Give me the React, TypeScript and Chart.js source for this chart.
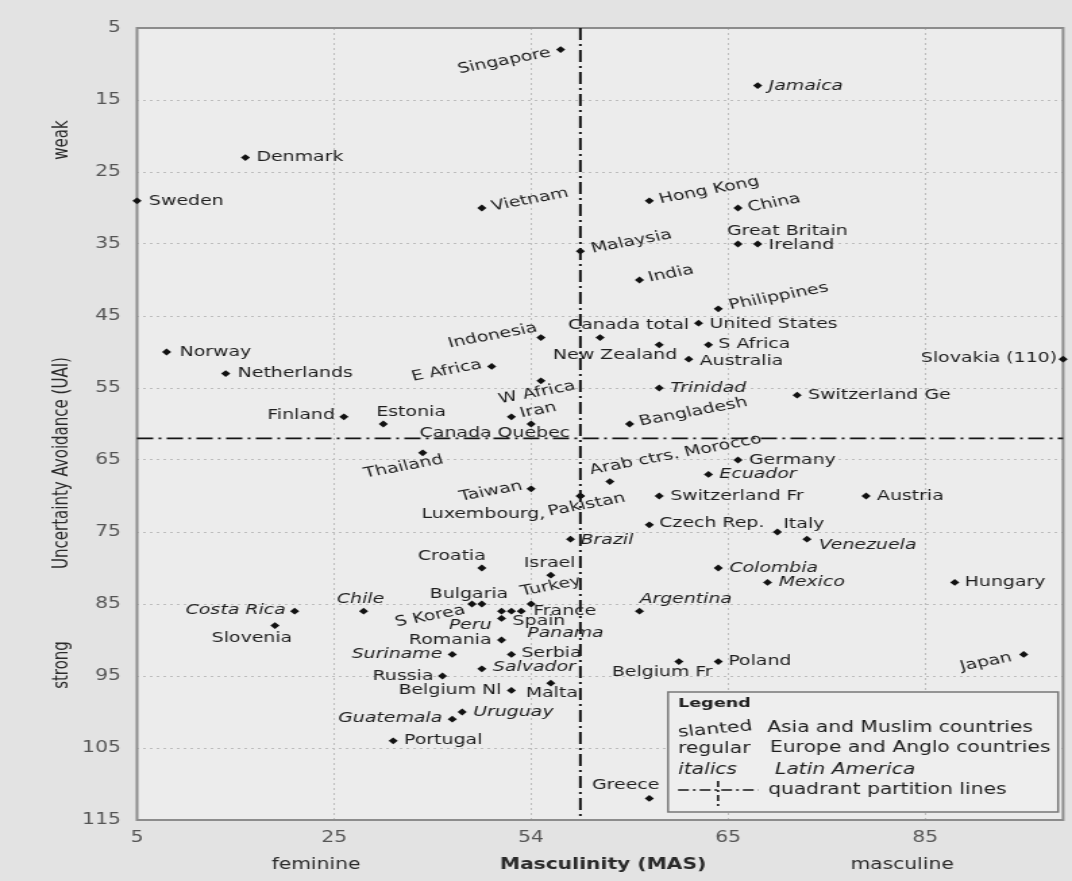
import React, { useEffect, useRef } from "react";
import { Chart, registerables } from "chart.js";

Chart.register(...registerables);

// The scanned figure is stretched horizontally: draw narrow, display wide.
const S = 1.35;
const W = 1072;
const H = 881;
const IW = Math.round(W / S);

const COUNTRIES = [
  "Singapore", "Jamaica", "Denmark", "Sweden", "Vietnam", "Hong Kong", "China", "Great Britain", "Ireland", "Malaysia",
  "India", "Philippines", "Canada total", "United States", "New Zealand", "S Africa", "Australia", "Slovakia (110)", "Indonesia", "E Africa",
  "W Africa", "Norway", "Netherlands", "Trinidad", "Switzerland Ge", "Finland", "Estonia", "Iran", "Canada Quebec", "Bangladesh",
  "Thailand", "Germany", "Ecuador", "Arab ctrs. Morocco", "Taiwan", "Luxembourg,", "Pakistan", "Switzerland Fr", "Austria", "Czech Rep.",
  "Italy", "Venezuela", "Brazil", "Croatia", "Israel", "Colombia", "Mexico", "Hungary", "Bulgaria", "S Korea",
  "Turkey", "France", "Spain", "Panama", "Peru", "Costa Rica", "Chile", "Argentina", "Slovenia", "Romania",
  "Serbia", "Suriname", "Salvador", "Russia", "Malta", "Belgium Nl", "Belgium Fr", "Poland", "Japan", "Uruguay",
  "Guatemala", "Portugal", "Greece",
];
const MAS = [
  48, 68, 16, 5, 40, 57, 66, 66, 68, 50,
  56, 64, 52, 62, 58, 63, 61, 110, 46, 41,
  46, 8, 14, 58, 72, 26, 30, 43, 45, 55,
  34, 66, 63, 53, 45, 50, 50, 58, 79, 57,
  70, 73, 49, 40, 47, 64, 69, 88, 40, 39,
  45, 43, 42, 44, 42, 21, 28, 56, 19, 42,
  43, 37, 40, 36, 47, 43, 60, 64, 95, 38,
  37, 31, 57,
];
const UAI = [
  8, 13, 23, 29, 30, 29, 30, 35, 35, 36,
  40, 44, 48, 46, 49, 49, 51, 51, 48, 52,
  54, 50, 53, 55, 56, 59, 60, 59, 60, 60,
  64, 65, 67, 68, 69, 70, 70, 70, 70, 74,
  75, 76, 76, 80, 81, 80, 82, 82, 85, 85,
  85, 86, 86, 86, 87, 86, 86, 86, 88, 90,
  92, 92, 94, 95, 96, 97, 93, 93, 92, 100,
  101, 104, 112,
];
// a = slanted (Asia & Muslim), e = regular (Europe & Anglo), l = italics (Latin America)
const GROUP = [
  "a", "l", "e", "e", "a", "a", "a", "e", "e", "a",
  "a", "a", "e", "e", "e", "e", "e", "e", "a", "a",
  "a", "e", "e", "l", "e", "e", "e", "a", "e", "a",
  "a", "e", "l", "a", "a", "e", "a", "e", "e", "e",
  "e", "l", "l", "e", "e", "l", "l", "e", "e", "a",
  "a", "e", "e", "l", "l", "l", "l", "l", "e", "e",
  "e", "l", "l", "e", "e", "e", "e", "e", "a", "l",
  "l", "e", "e",
];

const X_MIN = 5;
const X_MAX = 99;
const Y_MIN = 5;
const Y_MAX = 115;
const X_TICKS = [5, 25, 45, 65, 85];
const X_TICK_LABELS = ["5", "25", "54", "65", "85"];
const Y_STEP = 10;
const QUAD_MAS = 50;
const QUAD_UAI = 62;

const LEGEND_TITLE = "Legend";
const LEGEND_KEYS = ["slanted", "regular", "italics", ""];
const LEGEND_TEXT = ["Asia and Muslim countries", "Europe and Anglo countries", "Latin America", "quadrant partition lines"];

// label placement (display px offset from dot, alignment)
const LABEL_LAYOUT: [number, number, string][] = [
  [-10, 3, "r"], [11, 1, "l"], [11, 0, "l"], [12, 1, "l"], [10, -1, "l"], [10, -1, "l"], [10, 0, "l"], [-11, -13, "l"], [11, 1, "l"], [11, -2, "l"],
  [9, -2, "l"], [11, -3, "l"], [-32, -12, "l"], [11, 1, "l"], [18, 11, "r"], [10, 0, "l"], [11, 2, "l"], [-6, -1, "r"], [-4, -10, "r"], [-10, -2, "r"],
  [-42, 19, "l"], [13, 0, "l"], [12, 0, "l"], [11, 0, "l"], [11, 0, "l"], [-9, -1, "r"], [-7, -12, "l"], [9, -3, "l"], [39, 9, "r"], [10, -2, "l"],
  [-19, 14, "c"], [11, 0, "l"], [11, 0, "l"], [-20, -11, "l"], [-9, -3, "r"], [-35, 18, "r"], [-32, 16, "l"], [11, 0, "l"], [11, 0, "l"], [10, -1, "l"],
  [6, -8, "l"], [12, 6, "l"], [10, 1, "l"], [4, -12, "r"], [-27, -12, "l"], [11, 0, "l"], [11, 0, "l"], [10, 0, "l"], [-52, -10, "l"], [-7, 6, "r"],
  [-10, -12, "l"], [22, 0, "l"], [11, 10, "l"], [6, 22, "l"], [-10, 7, "r"], [-9, -1, "r"], [-3, -12, "c"], [0, -12, "l"], [-23, 13, "c"], [-10, 0, "r"],
  [10, -1, "l"], [-10, 0, "r"], [11, -1, "l"], [-9, 0, "r"], [-25, 10, "l"], [-10, 0, "r"], [-67, 11, "l"], [10, 0, "l"], [-12, 3, "r"], [11, 0, "l"],
  [-10, -1, "r"], [11, 0, "l"], [10, -13, "r"],
];

const FONT = '"DejaVu Sans", "Liberation Sans", sans-serif';
const PAGE_BG = "#e3e3e3";
const PLOT_BG = "#ececec";
const INK = "#1e1e1e";
const SLANT = (-14 * Math.PI) / 180;

const decorPlugin = {
  id: "decor",
  beforeDraw(chart: any) {
    const { ctx, chartArea: a } = chart;
    ctx.save();
    ctx.fillStyle = PAGE_BG;
    ctx.fillRect(0, 0, chart.width, chart.height);
    ctx.fillStyle = PLOT_BG;
    ctx.fillRect(a.left, a.top, a.right - a.left, a.bottom - a.top);
    ctx.restore();
  },
  beforeDatasetsDraw(chart: any) {
    const { ctx, chartArea: a } = chart;
    const xs = chart.scales.x;
    const ys = chart.scales.y;
    ctx.save();
    ctx.strokeStyle = "#8c8c8c";
    ctx.lineWidth = 2;
    ctx.strokeRect(a.left, a.top, a.right - a.left, a.bottom - a.top);
    const qx = xs.getPixelForValue(QUAD_MAS);
    const qy = ys.getPixelForValue(QUAD_UAI);
    ctx.strokeStyle = "#151515";
    ctx.lineWidth = 2;
    ctx.setLineDash([12, 4, 2, 4]);
    ctx.beginPath();
    ctx.moveTo(qx, a.top);
    ctx.lineTo(qx, a.bottom);
    ctx.stroke();
    ctx.lineWidth = 1.8;
    ctx.beginPath();
    ctx.moveTo(a.left, qy);
    ctx.lineTo(a.right, qy);
    ctx.stroke();
    ctx.restore();
  },
  afterDatasetsDraw(chart: any) {
    const ctx = chart.ctx;
    const meta = chart.getDatasetMeta(0);
    ctx.save();
    ctx.fillStyle = INK;
    ctx.textBaseline = "middle";
    meta.data.forEach((pt: any, i: number) => {
      const [dx, dy, al] = LABEL_LAYOUT[i];
      const g = GROUP[i];
      ctx.font = (g === "l" ? "italic " : "") + "14px " + FONT;
      ctx.textAlign = al === "l" ? "left" : al === "r" ? "right" : "center";
      ctx.save();
      ctx.translate(pt.x + dx / S, pt.y + dy);
      if (g === "a") ctx.rotate(SLANT);
      ctx.fillText(COUNTRIES[i], 0, 0);
      ctx.restore();
    });
    ctx.restore();
  },
  afterDraw(chart: any) {
    const ctx = chart.ctx;
    ctx.save();
    ctx.fillStyle = "#2a2a2a";
    ctx.textAlign = "center";
    ctx.textBaseline = "middle";
    ctx.font = "15px " + FONT;
    const vert = (t: string, x: number, y: number) => {
      ctx.save();
      ctx.translate(x, y);
      ctx.rotate(-Math.PI / 2);
      ctx.fillText(t, 0, 0);
      ctx.restore();
    };
    vert("Uncertainty Avoidance (UAI)", 62 / S, 463);
    vert("weak", 62 / S, 140);
    vert("strong", 62 / S, 665);
    ctx.fillText("feminine", 316 / S, 865);
    ctx.fillText("masculine", 902 / S, 865);
    ctx.font = "bold 15px " + FONT;
    ctx.fillText("Masculinity (MAS)", 603 / S, 865);

    // legend box
    const lx = 668 / S;
    const ly = 692;
    const lw = (1058 - 668) / S;
    const lh = 120;
    ctx.fillStyle = "#eeeeee";
    ctx.fillRect(lx, ly, lw, lh);
    ctx.strokeStyle = "#777";
    ctx.lineWidth = 1.5;
    ctx.strokeRect(lx, ly, lw, lh);
    ctx.fillStyle = INK;
    ctx.textAlign = "left";
    ctx.font = "bold 13px " + FONT;
    ctx.fillText(LEGEND_TITLE, 678 / S, 704);
    ctx.font = "15px " + FONT;
    ctx.save();
    ctx.translate(678 / S, 733);
    ctx.rotate((-7 * Math.PI) / 180);
    ctx.fillText(LEGEND_KEYS[0], 0, 0);
    ctx.restore();
    ctx.fillText(LEGEND_TEXT[0], 767 / S, 728);
    ctx.fillText(LEGEND_KEYS[1], 678 / S, 749);
    ctx.fillText(LEGEND_TEXT[1], 770 / S, 748);
    ctx.font = "italic 15px " + FONT;
    ctx.fillText(LEGEND_KEYS[2], 678 / S, 770);
    ctx.fillText(LEGEND_TEXT[2], 775 / S, 770);
    ctx.font = "15px " + FONT;
    ctx.fillText(LEGEND_TEXT[3], 768 / S, 790);
    ctx.strokeStyle = "#151515";
    ctx.lineWidth = 1.6;
    ctx.setLineDash([8, 3, 2, 3]);
    ctx.beginPath();
    ctx.moveTo(678 / S, 790);
    ctx.lineTo(758 / S, 790);
    ctx.stroke();
    ctx.setLineDash([6, 3, 2, 3]);
    ctx.beginPath();
    ctx.moveTo(718 / S, 781);
    ctx.lineTo(718 / S, 808);
    ctx.stroke();
    ctx.restore();
  },
};

export default function App() {
  const ref = useRef<HTMLCanvasElement>(null);
  useEffect(() => {
    document.body.style.margin = "0";
    document.body.style.background = PAGE_BG;
    const points = MAS.map((m, i) => ({ x: Math.min(m, X_MAX), y: UAI[i] }));
    const chart = new Chart(ref.current as HTMLCanvasElement, {
      type: "scatter",
      data: {
        datasets: [
          {
            data: points,
            pointStyle: "rectRot",
            pointRadius: 3.4,
            pointBackgroundColor: "#111",
            pointBorderWidth: 0,
            clip: false as any,
          },
        ],
      },
      plugins: [decorPlugin],
      options: {
        animation: false,
        responsive: false,
        devicePixelRatio: 1,
        layout: { padding: { top: 28, left: 0, right: IW - 1063 / S, bottom: 0 } },
        plugins: { legend: { display: false }, tooltip: { enabled: false } },
        scales: {
          x: {
            type: "linear",
            min: X_MIN,
            max: X_MAX,
            afterBuildTicks: (s: any) => {
              s.ticks = X_TICKS.map((v) => ({ value: v }));
            },
            afterFit: (s: any) => {
              s.height = 61;
            },
            ticks: {
              autoSkip: false,
              maxRotation: 0,
              padding: 9,
              color: "#555",
              font: { family: FONT, size: 15 },
              callback: (_v: any, i: number) => X_TICK_LABELS[i],
            },
            grid: { color: "#bdbdbd", lineWidth: 1, drawTicks: false },
            border: { display: false, dash: [2, 3] },
          },
          y: {
            type: "linear",
            reverse: true,
            min: Y_MIN,
            max: Y_MAX,
            afterFit: (s: any) => {
              s.width = 137 / S;
            },
            ticks: {
              stepSize: Y_STEP,
              padding: 12,
              color: "#555",
              font: { family: FONT, size: 15 },
            },
            grid: { color: "#bdbdbd", lineWidth: 1, drawTicks: false },
            border: { display: false, dash: [2, 3] },
          },
        },
      } as any,
    });
    return () => chart.destroy();
  }, []);
  return (
    <canvas
      ref={ref}
      width={IW}
      height={H}
      style={{ display: "block", width: W + "px", height: H + "px" }}
    />
  );
}
